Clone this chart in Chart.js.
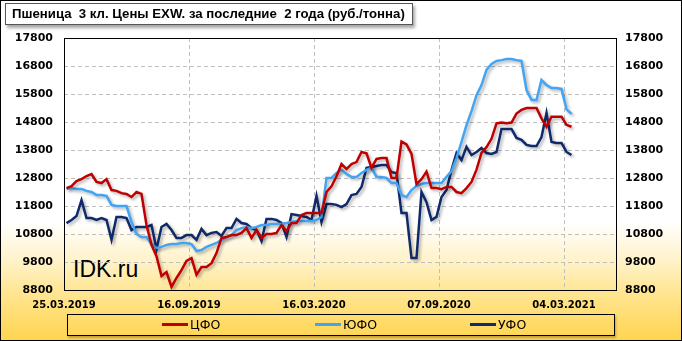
<!DOCTYPE html>
<html>
<head>
<meta charset="utf-8">
<script src="https://cdn.jsdelivr.net/npm/chart.js@4.4.1/dist/chart.umd.min.js"></script>
<style>
  html, body { margin: 0; padding: 0; background: #fff; }
  #wrap {
    position: relative; width: 682px; height: 341px; overflow: hidden;
    background: linear-gradient(to bottom, #ffffff 0%, #ffffff 65%, #fff3cc 76%, #ffe591 86%, #ffd44e 100%);
  }
  #chart { position: absolute; left: 0; top: 0; }
  #frame { position: absolute; left: 0; top: 0; width: 680px; height: 339px; border: 1px solid #000; }
  #title {
    position: absolute; left: 5px; top: 3px; width: 408px; height: 22px; box-sizing: border-box;
    background: #fff; border: 1px solid #555; box-shadow: 2px 3px 3px rgba(0,0,0,0.35);
    font: bold 13.2px "Liberation Sans", Arial, sans-serif; line-height: 20px; padding-left: 6px;
    white-space: pre; color: #000;
  }
  #mark {
    position: absolute; left: 73px; top: 258px; font: 23px "Liberation Sans", Arial, sans-serif;
    line-height: 23px; color: #000;
  }
  #legend {
    position: absolute; left: 67px; top: 314px; width: 548px; height: 22px; box-sizing: border-box;
    border: 1px solid #000; box-shadow: 1px 2px 2px rgba(0,0,0,0.25);
  }
  .item { position: absolute; top: 0; height: 20px; font: 12.5px "DejaVu Sans", sans-serif; line-height: 20px; color: #000; }
  .item span { display: inline-block; width: 26px; height: 3px; vertical-align: middle; margin-right: 2px; margin-top: -2px; }
</style>
</head>
<body>
<div id="wrap">
  <div id="mark">IDK.ru</div>
  <canvas id="chart" width="682" height="341"></canvas>
  <div id="title">Пшеница  3 кл. Цены EXW. за последние  2 года (руб./тонна)</div>
  <div id="legend"></div>
  <div id="frame"></div>
</div>
<script>
const seriesNames = ['ЦФО', 'ЮФО', 'УФО'];
const seriesColors = ['#c00000', '#41a5f5', '#0e2a6b'];
const dateLabels = ['25.03.2019', '16.09.2019', '16.03.2020', '07.09.2020', '04.03.2021'];
const dateWeeks = [0, 25, 50, 75, 100];

// weekly prices, rub/t
const cfo = [12440, 12510, 12690, 12760, 12870, 12940, 12660, 12620, 12760, 12370,
  12340, 12260, 12230, 12120, 12300, 12230, 11120, 10410, 10010, 9300,
  9440, 8910, 9230, 9510, 9840, 9940, 9340, 9620, 9620, 9760,
  10120, 10660, 10690, 10760, 10760, 10840, 11010, 10660, 10940, 10660,
  10800, 10800, 10840, 11120, 10900, 11190, 11190, 11480, 11550, 11550,
  11550, 11550, 12300, 12500, 12860, 13300, 13120, 13300, 13370, 13730,
  13680, 13160, 13480, 13510, 13510, 12800, 12800, 14100, 14000, 13660,
  12580, 12760, 13030, 12440, 12440, 12400, 12480, 12480, 12300, 12260,
  12440, 12660, 13100, 13700, 13900, 14200, 14750, 14780, 14760, 14780,
  15100, 15230, 15300, 15300, 15300, 14930, 14630, 14990, 14990, 14990,
  14700, 14630];

const yufo = [12410, 12440, 12410, 12410, 12340, 12300, 12190, 12190, 12160, 11840,
  11800, 11800, 11800, 11230, 10800, 10690, 10690, 10440, 10300, 10340,
  10410, 10440, 10440, 10480, 10480, 10440, 10190, 10230, 10340, 10410,
  10480, 10590, 10690, 10760, 10940, 11010, 11050, 11010, 11050, 11120,
  11120, 11160, 11160, 11160, 11190, 11230, 11260, 11260, 11260, 11260,
  11300, 11410, 12800, 12800, 12980, 13090, 12940, 12840, 12840, 12980,
  13090, 13160, 12840, 12840, 12800, 12620, 12620, 12190, 12120, 12370,
  12510, 12590, 12620, 12620, 12620, 12620, 12840, 13050, 13510, 14090,
  14690, 15190, 15760, 16120, 16660, 16870, 16980, 17010, 17050, 17050,
  17010, 16980, 15940, 15590, 15590, 16300, 16120, 16010, 16010, 15980,
  15250, 15090];

const ufo = [11190, 11300, 11440, 12010, 11370, 11370, 11300, 11370, 11300, 10590,
  11410, 11410, 11370, 10940, 11050, 11050, 11050, 11120, 10260, 11050,
  11160, 10940, 10660, 10660, 10760, 10760, 10590, 10980, 10760, 10840,
  10870, 10730, 11010, 11010, 11340, 11190, 11160, 11010, 10940, 10550,
  11340, 11340, 11300, 11190, 10690, 11510, 11480, 11440, 11410, 11300,
  12160, 11230, 11870, 11870, 11840, 11760, 11870, 12190, 12230, 12480,
  13160, 13190, 13230, 13260, 13260, 13010, 12980, 11550, 11550, 9940,
  9940, 12300, 11940, 11300, 11410, 12120, 12370, 13090, 13690, 13440,
  13910, 13620, 13730, 13870, 13690, 13660, 13730, 14550, 14550, 14550,
  14230, 14160, 13980, 13940, 13940, 14260, 15120, 14090, 14050, 14050,
  13730, 13620];

const yMin = 8800;
const yMax = 17800;
const yStep = 1000;

function buildLegend() {
  const box = document.getElementById('legend');
  const lefts = [94, 247, 402];
  seriesNames.forEach((name, i) => {
    const el = document.createElement('div');
    el.className = 'item';
    el.style.left = lefts[i] + 'px';
    el.innerHTML = `<span style="background:${seriesColors[i]}"></span>${name}`;
    box.appendChild(el);
  });
}

const plotFrame = {
  id: 'plotFrame',
  beforeDatasetsDraw(chart) {
    const { ctx, chartArea: a } = chart;
    ctx.save();
    ctx.strokeStyle = '#000';
    ctx.lineWidth = 1;
    ctx.strokeRect(a.left + 0.5, a.top + 0.5, a.right - a.left - 1, a.bottom - a.top);
    ctx.restore();
  }
};

const lineShadow = {
  id: 'lineShadow',
  beforeDatasetsDraw(chart) {
    const ctx = chart.ctx;
    ctx.save();
    ctx.shadowColor = 'rgba(0, 0, 0, 0.3)';
    ctx.shadowBlur = 3;
    ctx.shadowOffsetX = 2;
    ctx.shadowOffsetY = 2;
  },
  afterDatasetsDraw(chart) {
    chart.ctx.restore();
  }
};

function myChart() {
  const ctx = document.getElementById('chart');
  const series = [cfo, yufo, ufo];
  const gridDash = { color: '#bfbfbf', lineWidth: 1, drawTicks: false };
  const yFont = { family: 'DejaVu Sans', size: 11, weight: 'bold' };

  new Chart(ctx, {
    type: 'line',
    data: {
      datasets: series.map((values, i) => ({
        label: seriesNames[i],
        data: values.map((v, w) => ({ x: w + 0.5, y: v })),
        borderColor: seriesColors[i],
        borderWidth: 2.5,
        pointRadius: 0,
        tension: 0,
        fill: false
      }))
    },
    options: {
      responsive: false,
      animation: false,
      layout: { padding: { top: 38, left: 0, right: 0, bottom: 0 } },
      plugins: { legend: { display: false }, tooltip: { enabled: false } },
      scales: {
        x: {
          type: 'linear',
          min: 0,
          max: 110.6,
          afterBuildTicks: (scale) => { scale.ticks = dateWeeks.map(v => ({ value: v })); },
          afterFit: (scale) => { scale.height = 51; },
          grid: gridDash,
          border: { display: false, dash: [4, 3] },
          ticks: {
            autoSkip: false,
            maxRotation: 0,
            padding: 9,
            color: '#000',
            font: { family: 'DejaVu Sans', size: 10, weight: 'bold' },
            callback: (value) => dateLabels[dateWeeks.indexOf(value)]
          }
        },
        y: {
          position: 'left',
          min: yMin,
          max: yMax,
          afterFit: (scale) => { scale.width = 64; },
          grid: gridDash,
          border: { display: false, dash: [4, 3] },
          ticks: {
            stepSize: yStep,
            padding: 11,
            color: '#000',
            font: yFont,
            callback: (value) => String(value)
          }
        },
        y2: {
          position: 'right',
          min: yMin,
          max: yMax,
          afterFit: (scale) => { scale.width = 65; },
          grid: { display: false, drawTicks: false },
          border: { display: false },
          ticks: {
            stepSize: yStep,
            padding: 8,
            color: '#000',
            font: yFont,
            callback: (value) => String(value)
          }
        }
      }
    },
    plugins: [plotFrame, lineShadow]
  });
}

buildLegend();
myChart();
</script>
</body>
</html>
